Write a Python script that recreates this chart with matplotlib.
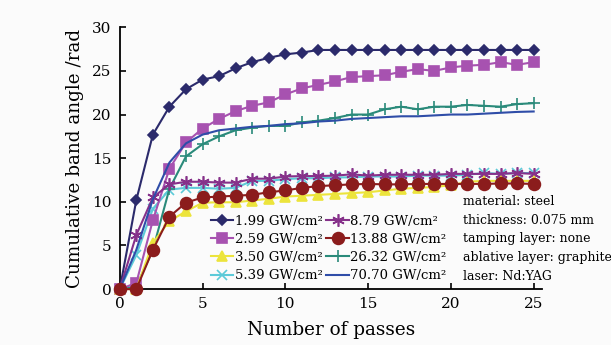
import matplotlib
matplotlib.use('Agg')
import matplotlib.pyplot as plt

# data
passes = list(range(0, 26))

labels = ['1.99 GW/cm²', '2.59 GW/cm²', '3.50 GW/cm²', '5.39 GW/cm²',
          '8.79 GW/cm²', '13.88 GW/cm²', '26.32 GW/cm²', '70.70 GW/cm²']

angle_199 = [0, 10.2, 17.7, 20.9, 22.9, 24.0, 24.4, 25.3, 26.0, 26.5, 26.9, 27.1,
             27.4, 27.4, 27.4, 27.4, 27.4, 27.4, 27.4, 27.4, 27.4, 27.4, 27.4, 27.4, 27.4, 27.4]
angle_259 = [0, 0.7, 7.9, 13.8, 16.8, 18.4, 19.5, 20.4, 21.0, 21.4, 22.3, 23.0, 23.4,
             23.8, 24.3, 24.4, 24.5, 24.9, 25.2, 25.0, 25.4, 25.6, 25.7, 26.0, 25.7, 26.0]
angle_350 = [0, 0, 5.3, 7.8, 8.9, 9.9, 9.95, 9.95, 10.15, 10.35, 10.6, 10.7, 10.8,
             10.9, 11.0, 11.1, 11.3, 11.5, 11.6, 11.7, 11.9, 12.3, 12.4, 12.4, 12.4, 12.4]
angle_539 = [0, 3.9, 9.2, 11.4, 11.6, 11.6, 11.5, 11.6, 12.4, 12.4, 12.6, 12.7, 12.7,
             12.8, 12.8, 12.9, 12.9, 12.9, 13.0, 13.0, 13.0, 13.1, 13.3, 13.2, 13.3, 13.3]
angle_879 = [0, 6.2, 10.5, 12.0, 12.3, 12.3, 12.2, 12.2, 12.65, 12.65, 12.9, 12.95, 12.95,
             13.0, 13.15, 13.0, 13.1, 13.1, 13.1, 13.1, 13.2, 13.2, 13.2, 13.2, 13.3, 13.2]
angle_1388 = [0, 0, 4.5, 8.3, 9.9, 10.5, 10.6, 10.7, 10.8, 11.1, 11.3, 11.6, 11.8,
              11.9, 12.0, 12.05, 12.0, 12.0, 12.05, 12.05, 12.05, 12.05, 12.05, 12.1, 12.1, 12.05]
angle_2632 = [0, 0.3, 4.5, 11.5, 15.2, 16.6, 17.5, 18.2, 18.5, 18.7, 18.7, 19.1, 19.3,
              19.6, 20.0, 20.0, 20.6, 20.9, 20.6, 20.9, 20.9, 21.1, 21.0, 20.9, 21.2, 21.3]
angle_7070 = [0, 4.5, 10.3, 14.5, 16.7, 17.7, 18.2, 18.4, 18.6, 18.7, 18.9, 19.0, 19.2,
              19.3, 19.5, 19.6, 19.7, 19.8, 19.8, 19.9, 20.0, 20.0, 20.1, 20.2, 20.3, 20.35]

info_lines = ['material: steel', 'thickness: 0.075 mm', 'tamping layer: none',
              'ablative layer: graphite', 'laser: Nd:YAG']

series = [angle_199, angle_259, angle_350, angle_539,
          angle_879, angle_1388, angle_2632, angle_7070]

# styles
colors = ['#2b2a6b', '#a752b0', '#ece43c', '#5ccad8',
          '#86318a', '#8b1c1c', '#2a8a7a', '#2f4da8']
markers = ['D', 's', '^', 'x', (6, 2, 0), 'o', '+', None]
msizes = [5.5, 7.5, 7.5, 6.5, 9, 8.5, 8, 0]

plt.rcParams['font.family'] = 'DejaVu Serif'

fig = plt.figure(figsize=(6.11, 3.45), dpi=100, facecolor='#fbfbfb')
ax = fig.add_axes([0.196, 0.162, 0.691, 0.759])
ax.set_facecolor('#fbfbfb')

for (index, y) in enumerate(series):
    ax.plot(passes, y,
            color=colors[index],
            marker=markers[index],
            markersize=msizes[index],
            markeredgewidth=1.2,
            linewidth=1.5,
            label=labels[index],
            clip_on=False,
            zorder=3 + index % 3)

ax.set_xlim(0, 25.5)
ax.set_ylim(0, 30)
ax.set_xticks([0, 5, 10, 15, 20, 25])
ax.set_yticks([0, 5, 10, 15, 20, 25, 30])
ax.spines['top'].set_visible(False)
ax.spines['right'].set_visible(False)
ax.spines['left'].set_linewidth(1.3)
ax.spines['bottom'].set_linewidth(1.3)
ax.tick_params(direction='in', length=4, width=1.2, labelsize=11)
ax.tick_params(axis='x', pad=6)
ax.tick_params(axis='y', pad=6)

ax.set_xlabel('Number of passes', fontsize=13.2, labelpad=7)
ax.set_ylabel('Cumulative band angle /rad', fontsize=13.2, labelpad=6)

ax.legend(ncol=2, loc='upper left', bbox_to_anchor=(0.2, 0.31),
          frameon=False, fontsize=9.5, handlelength=1.7, handletextpad=0.1,
          columnspacing=0.3, labelspacing=0.4, borderpad=0)

for i, line in enumerate(info_lines):
    ax.text(0.813, 0.334 - i * 0.071, line, transform=ax.transAxes,
            fontsize=9, va='center', ha='left')

plt.savefig('out.png', dpi=100, facecolor=fig.get_facecolor())
